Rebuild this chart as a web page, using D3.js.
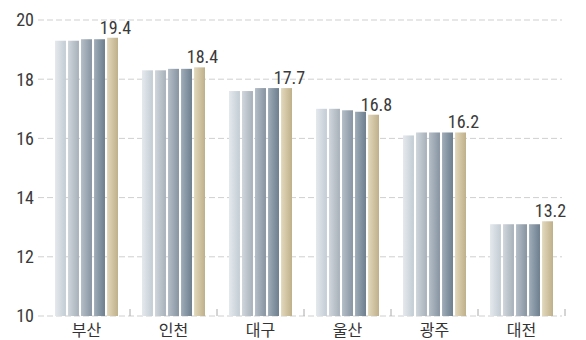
<!DOCTYPE html>
<html>
<head>
<meta charset="utf-8">
<script src="https://cdn.jsdelivr.net/npm/d3@7"></script>
<style>
  html, body { margin: 0; padding: 0; background: #fff; }
  svg { display: block; }
</style>
</head>
<body>
<svg id="chart" width="586" height="340"></svg>
<script>
// Cities and the five series values per city (last series is labelled)
const cities = ["부산", "인천", "대구", "울산", "광주", "대전"];
const series1 = [19.3, 18.3, 17.6, 17.0, 16.1, 13.1];
const series2 = [19.3, 18.3, 17.6, 17.0, 16.2, 13.1];
const series3 = [19.35, 18.35, 17.7, 16.95, 16.2, 13.1];
const series4 = [19.35, 18.35, 17.7, 16.9, 16.2, 13.1];
const series5 = [19.4, 18.4, 17.7, 16.8, 16.2, 13.2];
const yTicks = [10, 12, 14, 16, 18, 20];

const seriesList = [series1, series2, series3, series4, series5];
// left/right gradient stops for each series
const seriesColors = [
  ["#e4e9ed", "#c3ccd4"],
  ["#d0d6dc", "#a7b0b9"],
  ["#b4bec8", "#8794a1"],
  ["#a0adb9", "#6d7e8d"],
  ["#e2d8bc", "#bfb08a"]
];

const svg = d3.select("#chart");

const y = d3.scaleLinear().domain([10, 20]).range([316, 20]);
const x = d3.scaleBand().domain(cities).range([43, 565]).paddingInner(0).paddingOuter(0);
const groupW = 63;
const xs = d3.scaleBand().domain(d3.range(5)).range([0, groupW]).paddingInner(0.16);

// gradients
const defs = svg.append("defs");
seriesColors.forEach((c, i) => {
  const g = defs.append("linearGradient").attr("id", "g" + i)
    .attr("x1", "0%").attr("x2", "100%").attr("y1", "0%").attr("y2", "0%");
  g.append("stop").attr("offset", "0%").attr("stop-color", c[0]);
  g.append("stop").attr("offset", "100%").attr("stop-color", c[1]);
});

const numFont = "'Liberation Sans Narrow', 'Roboto Condensed', 'Roboto', sans-serif";

// dashed gridlines
svg.append("g").selectAll("line").data(yTicks).join("line")
  .attr("x1", 38).attr("x2", 562)
  .attr("y1", d => y(d)).attr("y2", d => y(d))
  .attr("stroke", "#cfcfcf").attr("stroke-width", 1)
  .attr("stroke-dasharray", "6,3");

// y tick labels
svg.append("g").selectAll("text").data(yTicks).join("text")
  .attr("x", 34).attr("y", d => y(d))
  .attr("dy", "0.36em")
  .attr("text-anchor", "end")
  .attr("font-family", numFont)
  .attr("font-size", 18)
  .attr("fill", "#3a3a3a")
  .text(d => d);

// bars
const groups = svg.append("g").selectAll("g").data(cities).join("g")
  .attr("transform", d => `translate(${x(d) + (x.bandwidth() - groupW) / 2},0)`);

groups.selectAll("rect")
  .data((c, ci) => seriesList.map((s, si) => ({ si, v: s[ci] })))
  .join("rect")
  .attr("x", d => xs(d.si))
  .attr("width", xs.bandwidth())
  .attr("y", d => y(d.v))
  .attr("height", d => y(10) - y(d.v))
  .attr("fill", d => `url(#g${d.si})`);

// value labels over the last bar
groups.append("text")
  .attr("x", () => xs(4) + xs.bandwidth() / 2 + 3)
  .attr("y", (c, ci) => y(series5[ci]) - 4)
  .attr("text-anchor", "middle")
  .attr("font-family", numFont)
  .attr("font-size", 18)
  .attr("fill", "#3a3a3a")
  .text((c, ci) => series5[ci].toFixed(1));

// small separator ticks on the baseline
const bounds = cities.slice(1).map(c => x(c)).concat([x.range()[1]]);
svg.append("g").selectAll("line").data(bounds).join("line")
  .attr("x1", d => d).attr("x2", d => d)
  .attr("y1", y(10) - 7).attr("y2", y(10))
  .attr("stroke", "#aaa").attr("stroke-width", 1);

// category labels
svg.append("g").selectAll("text").data(cities).join("text")
  .attr("x", d => x(d) + x.bandwidth() / 2)
  .attr("y", 330)
  .attr("dy", "0.36em")
  .attr("text-anchor", "middle")
  .attr("font-family", "'Noto Sans CJK KR', sans-serif")
  .attr("font-size", 16)
  .attr("fill", "#333")
  .text(d => d);
</script>
</body>
</html>
